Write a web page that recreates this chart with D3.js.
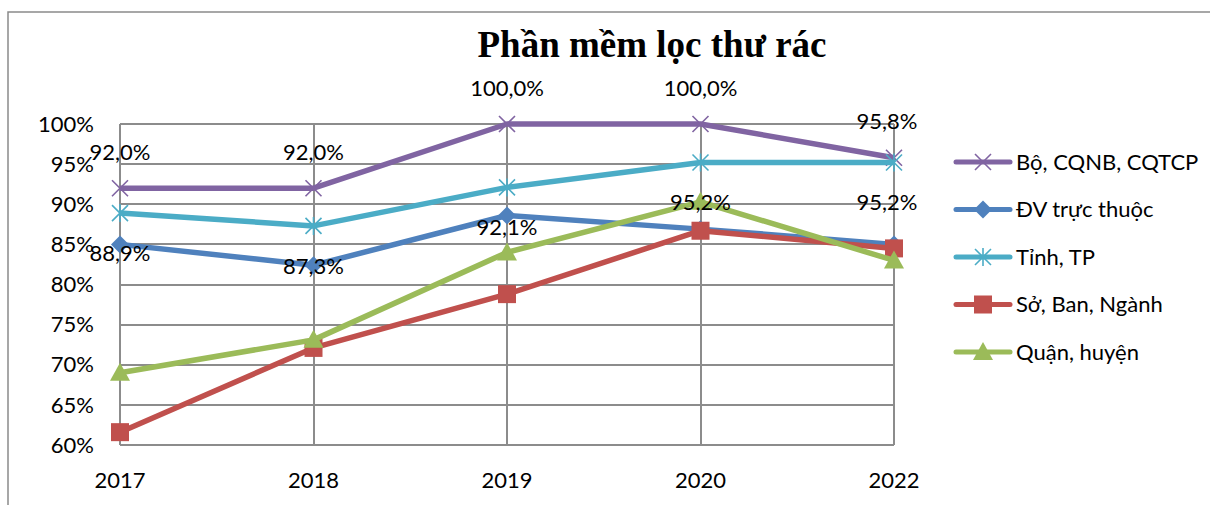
<!DOCTYPE html>
<meta charset="utf-8">
<title>Phần mềm lọc thư rác</title>
<style>
body { margin: 0; background: #fff; }
svg { font-family: Lato, "Open Sans", sans-serif; }
.grid line { stroke: #8c8c8c; stroke-width: 2px; shape-rendering: crispEdges; }
.tick-label, .data-label, .legend text { font-size: 22px; fill: #000; }
.title { font-family: "Liberation Serif", "Times New Roman", serif; font-weight: bold; font-size: 37px; }
</style>
<body>
<script src="https://cdn.jsdelivr.net/npm/d3@7"></script>
<script>

var years = ["2017", "2018", "2019", "2020", "2022"];
var yTicks = [60, 65, 70, 75, 80, 85, 90, 95, 100];

var boCqnb   = [92.0, 92.0, 100.0, 100.0, 95.8];
var dvTruc   = [85.0, 82.4, 88.6, 86.9, 85.0];
var tinhTp   = [88.9, 87.3, 92.1, 95.2, 95.2];
var soBan    = [61.6, 72.1, 78.8, 86.7, 84.5];
var quanHuyen = [69.0, 73.1, 84.0, 90.3, 83.0];

var seriesNames = ["Bộ, CQNB, CQTCP", "ĐV trực thuộc", "Tỉnh, TP", "Sở, Ban, Ngành", "Quận, huyện"];

var series = [
  {name: seriesNames[0], values: boCqnb,    color: "#8064a2", marker: "x",        label: "above"},
  {name: seriesNames[1], values: dvTruc,    color: "#4f81bd", marker: "diamond"},
  {name: seriesNames[2], values: tinhTp,    color: "#4bacc6", marker: "asterisk", label: "below"},
  {name: seriesNames[3], values: soBan,     color: "#c0504d", marker: "square"},
  {name: seriesNames[4], values: quanHuyen, color: "#9bbb59", marker: "triangle"}
];

var width = 1210, height = 505;

var x = d3.scalePoint().domain(years).range([120, 894]);
var y = d3.scaleLinear().domain([60, 100]).range([445, 124]);

var svg = d3.select("body").append("svg")
    .attr("width", width)
    .attr("height", height);

// chart frame (only top and left edges visible)
svg.append("path")
    .attr("d", "M8,505V12H1210")
    .attr("fill", "none")
    .attr("stroke", "#8a8a8a")
    .attr("stroke-width", 1.5);

svg.append("text")
    .attr("class", "title")
    .attr("x", 652)
    .attr("y", 57)
    .attr("text-anchor", "middle")
    .text("Phần mềm lọc thư rác");

var grid = svg.append("g").attr("class", "grid");

grid.selectAll(".h")
    .data(yTicks)
  .enter().append("line")
    .attr("x1", x.range()[0])
    .attr("x2", x.range()[1])
    .attr("y1", function(d) { return y(d); })
    .attr("y2", function(d) { return y(d); });

grid.selectAll(".v")
    .data(years)
  .enter().append("line")
    .attr("x1", function(d) { return x(d); })
    .attr("x2", function(d) { return x(d); })
    .attr("y1", y(100))
    .attr("y2", y(60));

svg.append("g").selectAll("text")
    .data(yTicks)
  .enter().append("text")
    .attr("class", "tick-label")
    .attr("x", 94)
    .attr("y", function(d) { return y(d); })
    .attr("dy", "0.35em")
    .attr("text-anchor", "end")
    .text(function(d) { return d + "%"; });

svg.append("g").selectAll("text")
    .data(years)
  .enter().append("text")
    .attr("class", "tick-label")
    .attr("x", function(d) { return x(d); })
    .attr("y", 488)
    .attr("text-anchor", "middle")
    .text(function(d) { return d; });

var line = d3.line()
    .x(function(d, i) { return x(years[i]); })
    .y(function(d) { return y(d); });

function drawMarker(g, type, color) {
  var s = 8;
  if (type === "x" || type === "asterisk") {
    var p = "M" + (-s) + "," + (-s) + "L" + s + "," + s + "M" + (-s) + "," + s + "L" + s + "," + (-s);
    if (type === "asterisk") p += "M0," + (-s - 1) + "V" + (s + 1);
    g.append("path").attr("d", p).attr("stroke", color).attr("stroke-width", 1.6).attr("fill", "none");
  } else if (type === "diamond") {
    g.append("path").attr("d", "M0,-9L9,0L0,9L-9,0Z").attr("fill", color);
  } else if (type === "square") {
    g.append("rect").attr("x", -9).attr("y", -9).attr("width", 18).attr("height", 18).attr("fill", color);
  } else if (type === "triangle") {
    g.append("path").attr("d", "M0,-10L10,8L-10,8Z").attr("fill", color);
  }
}

series.forEach(function(s) {
  var g = svg.append("g");
  g.append("path")
      .attr("d", line(s.values))
      .attr("fill", "none")
      .attr("stroke", s.color)
      .attr("stroke-width", 5.5)
      .attr("stroke-linejoin", "round");
  s.values.forEach(function(v, i) {
    var m = g.append("g").attr("transform", "translate(" + x(years[i]) + "," + y(v) + ")");
    drawMarker(m, s.marker, s.color);
  });
});

// data labels
series.filter(function(s) { return s.label; }).forEach(function(s) {
  svg.append("g").selectAll("text")
      .data(s.values)
    .enter().append("text")
      .attr("class", "data-label")
      .attr("x", function(d, i) { return Math.min(x(years[i]), 887); })
      .attr("y", function(d) { return y(d) + (s.label === "above" ? -36 : 40); })
      .attr("dy", "0.35em")
      .attr("text-anchor", "middle")
      .text(function(d) { return d.toFixed(1).replace(".", ",") + "%"; });
});

// legend
var legend = svg.append("g").attr("class", "legend")
  .selectAll("g")
    .data(series)
  .enter().append("g")
    .attr("transform", function(d, i) { return "translate(983," + (162 + i * 47.5) + ")"; });

legend.append("line")
    .attr("x1", -27).attr("x2", 27)
    .attr("stroke", function(d) { return d.color; })
    .attr("stroke-width", 5)
    .attr("stroke-linecap", "round");

legend.each(function(d) { drawMarker(d3.select(this), d.marker, d.color); });

legend.append("text")
    .attr("x", 33)
    .attr("dy", "0.35em")
    .text(function(d) { return d.name; });

</script>
</body>
